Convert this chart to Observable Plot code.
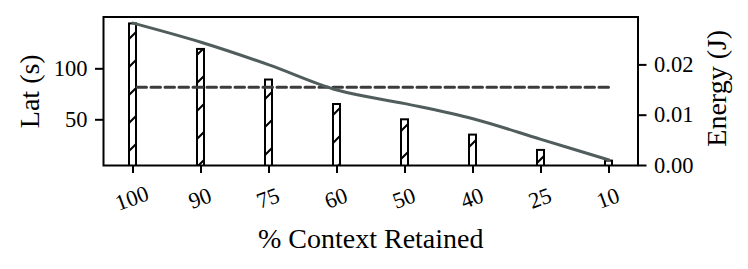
<!DOCTYPE html>
<html>
<head>
<meta charset="utf-8">
<script src="https://cdn.jsdelivr.net/npm/d3@7"></script>
<script src="https://cdn.jsdelivr.net/npm/@observablehq/plot@0.6"></script>
<style>
  html, body { margin: 0; padding: 0; background: white; }
  #chart svg text { font-family: "Liberation Serif", "Times New Roman", serif !important; }
</style>
</head>
<body>
<svg width="0" height="0" style="position:absolute">
  <defs>
    <pattern id="hatch" patternUnits="userSpaceOnUse" width="28" height="28">
      <rect width="28" height="28" fill="white"></rect>
      <path d="M-7,7 L7,-7 M0,28 L28,0 M21,35 L35,21" stroke="black" stroke-width="2"></path>
    </pattern>
  </defs>
</svg>
<div id="chart"></div>
<script>
// ---- data ----
const categories = ["100", "90", "75", "60", "50", "40", "25", "10"];
const latency = [144, 119, 89, 65, 50, 35, 20, 9.5];          // Lat (s), bars
const energy = [0.0283, 0.0245, 0.0200, 0.0150, 0.0123, 0.0093, 0.0052, 0.0011]; // Energy (J), line
const baselineLatency = 82;                                     // dashed reference
const latTicks = [50, 100];
const energyTicks = [0, 0.01, 0.02];

// ---- dual-axis mapping ----
const latDomain = [5.2, 150.8];
const energyDomain = [0, 0.02952];
const eToLat = e => latDomain[0] + (e - energyDomain[0]) / (energyDomain[1] - energyDomain[0]) * (latDomain[1] - latDomain[0]);
const latToE = v => energyDomain[0] + (v - latDomain[0]) / (latDomain[1] - latDomain[0]) * (energyDomain[1] - energyDomain[0]);

const rows = categories.map((c, i) => ({cat: c, lat: latency[i], energy: energy[i]}));

const chart = Plot.plot({
  width: 748,
  height: 269,
  marginTop: 16.5,
  marginBottom: 104,
  marginLeft: 103,
  marginRight: 110.5,
  style: {fontFamily: "'Liberation Serif', serif", fontSize: "22px", color: "black", background: "white"},
  x: {type: "band", domain: categories, paddingInner: 0.902, paddingOuter: 0.358},
  y: {domain: latDomain},
  marks: [
    Plot.barY(rows, {x: "cat", y: "lat", fill: "url(#hatch)", stroke: "black", strokeWidth: 2, clip: true}),
    Plot.line(rows, {x: "cat", y: () => baselineLatency, stroke: "#3c3c3c", strokeWidth: 3, strokeDasharray: "9.5,4.5", dx: 4}),
    Plot.line(rows, {x: "cat", y: d => eToLat(d.energy), stroke: "#515d5d", strokeWidth: 3, curve: "catmull-rom"}),
    Plot.axisY({anchor: "left", ticks: latTicks, tickSize: 8, tickPadding: 8, strokeWidth: 2, fontSize: 22.5, label: null}),
    Plot.axisY({anchor: "right", ticks: energyTicks.map(eToLat), tickFormat: v => d3.format(".2f")(latToE(v)), tickSize: 8, tickPadding: 8, strokeWidth: 2, fontSize: 22.5, label: null}),
    Plot.axisX({tickSize: 8, tickFormat: () => "", strokeWidth: 2, label: null}),
    Plot.text(categories, {x: d => d, frameAnchor: "bottom", dy: 33, dx: -1, rotate: -20, fontSize: 22.5, textAnchor: "middle", lineAnchor: "middle"}),
    Plot.text(["Lat (s)"], {frameAnchor: "left", dx: -73, rotate: -90, fontSize: 28, textAnchor: "middle", lineAnchor: "middle"}),
    Plot.text(["Energy (J)"], {frameAnchor: "right", dx: 79, dy: -3, rotate: -90, fontSize: 28, textAnchor: "middle", lineAnchor: "middle"}),
    Plot.text(["% Context Retained"], {frameAnchor: "bottom", dy: 74, fontSize: 28, textAnchor: "middle", lineAnchor: "middle"}),
    Plot.frame({stroke: "black", strokeWidth: 2})
  ]
});
document.getElementById("chart").appendChild(chart);
</script>
</body>
</html>
